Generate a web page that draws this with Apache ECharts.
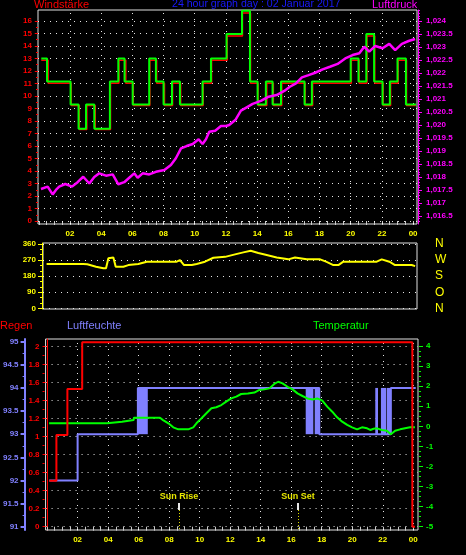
<!DOCTYPE html>
<html><head><meta charset="utf-8">
<script src="https://cdn.jsdelivr.net/npm/echarts@6/dist/echarts.min.js"></script>
<style>html,body{margin:0;padding:0;background:#000;}#c{width:466px;height:555px;}</style>
</head><body><div id="c"></div>
<script>
// ---------- DATA ----------
const titleMain = '24 hour graph day : 02 Januar 2017';
const titleWind = 'Windstärke';
const titlePress = 'Luftdruck';
const titleRain = 'Regen';
const titleHum = 'Luftfeuchte';
const titleTemp = 'Temperatur';

const hourLabels = [2,4,6,8,10,12,14,16,18,20,22,24];
const windTicks = [0,1,2,3,4,5,6,7,8,9,10,11,12,13,14,15,16];
const pressTicks = [1016.5,1017,1017.5,1018,1018.5,1019,1019.5,1020,1020.5,1021,1021.5,1022,1022.5,1023,1023.5,1024];
const dirTicks = [0,90,180,270,360];
const dirLetters = ['N','O','S','W','N'];
const rainTicks = [0,0.2,0.4,0.6,0.8,1,1.2,1.4,1.6,1.8,2];
const humTicks = [91,91.5,92,92.5,93,93.5,94,94.5,95];
const tempTicks = [-5,-4,-3,-2,-1,0,1,2,3,4];

// wind gust (green), step values held from each time
const gustTimes = [0.16,0.53,2.04,2.55,3.03,3.56,4.56,5.10,5.50,6.02,7.08,7.51,8.00,8.54,9.05,10.50,11.04,12.04,13.03,13.54,14.03,14.56,14.99,15.53,17.04,17.51,20.00,20.50,21.00,21.50,22.04,22.51,23.00,23.54,24.18];
const gustValues = [13.0,11.17,9.33,7.39,9.33,7.39,11.17,13.0,11.17,9.33,13.0,11.17,9.33,11.17,9.33,11.17,13.0,14.96,16.82,11.17,9.33,11.17,9.33,11.17,9.33,11.17,13.0,11.17,14.96,11.17,9.33,11.17,13.0,9.33,9.33];
// wind average (red)
const avgTimes = [0.16,0.60,2.08,2.60,3.08,3.62,4.60,5.14,5.58,6.06,7.12,7.56,8.06,8.58,9.10,10.54,11.08,12.08,13.06,13.58,14.06,14.62,15.04,15.58,17.08,17.56,20.04,20.54,21.04,21.54,22.08,22.56,23.04,23.58,24.18];
const avgValues = [12.87,11.02,9.25,7.33,9.25,7.33,11.02,12.87,11.02,9.25,12.87,11.02,9.25,11.02,9.25,11.02,12.87,14.8,16.65,11.02,9.25,11.02,9.25,11.02,9.25,11.02,12.87,11.02,14.8,11.02,9.25,11.02,12.87,9.25,9.25];
// pressure (magenta)
const pressTimes = [0.14,0.57,0.89,1.10,1.31,1.70,2.13,2.49,2.85,3.24,3.56,3.88,4.31,4.74,5.10,5.48,5.80,6.12,6.34,6.66,7.08,7.51,8.05,8.47,8.79,9.12,9.48,9.87,10.25,10.50,10.72,10.93,11.31,11.68,12.00,12.21,12.60,12.96,13.33,13.71,14.24,14.74,15.25,15.74,16.10,16.49,16.87,17.30,17.72,18.20,18.67,19.16,19.65,20.12,20.55,20.87,21.19,21.57,22.04,22.47,22.85,23.28,23.71,24.13];
const pressValues = [1017.54,1017.63,1017.33,1017.50,1017.63,1017.73,1017.63,1017.80,1018.01,1017.75,1018.00,1018.14,1018.05,1018.10,1017.72,1017.80,1017.97,1018.14,1017.97,1018.14,1018.10,1018.20,1018.27,1018.46,1018.72,1019.10,1019.19,1019.27,1019.45,1019.27,1019.45,1019.74,1019.78,1019.96,1019.96,1020.00,1020.19,1020.55,1020.68,1020.81,1020.93,1021.09,1021.15,1021.31,1021.47,1021.60,1021.83,1021.92,1022.01,1022.14,1022.24,1022.35,1022.56,1022.69,1022.76,1023.01,1022.82,1023.04,1022.95,1023.12,1022.88,1023.12,1023.23,1023.31];
// wind direction (yellow)
const dirTimes = [0.50,2.85,3.11,3.67,4.14,4.31,4.46,4.78,4.93,5.42,5.74,6.38,6.92,8.84,9.05,9.31,9.80,10.12,10.65,11.19,11.94,12.58,13.11,13.58,14.07,14.54,15.25,15.99,16.42,17.17,18.03,18.41,18.88,19.20,19.52,21.66,21.98,22.47,22.83,23.90,24.12];
const dirValues = [248,248,247,233,224,224,280,284,233,233,242,248,261,261,270,242,242,248,261,283,288,302,313,322,310,300,284,274,284,274,274,261,242,242,261,261,274,261,242,242,236];
// rain (red, cumulative)
const rainTimes = [0.14,0.61,1.33,2.30,23.94,24.11];
const rainValues = [0.51,1.02,1.53,2.05,0,0];
// humidity (blue)
const humTimes = [0.14,2.00,5.95,17.84,22.53,24.16];
const humValues = [92,93,94,93,94,94];
const humBands = [[5.95,6.60],[16.95,17.45],[17.54,17.84],[21.51,21.69],[21.88,22.23],[22.27,22.53]];
const humBandLow = 93, humBandHigh = 94;
// temperature (green)
const tempTimes = [0.13,3.93,3.95,4.91,4.93,5.67,5.69,7.40,7.60,7.95,8.27,8.60,9.25,9.58,9.79,10.12,10.44,10.77,11.09,11.42,11.74,12.07,12.40,12.72,13.16,13.59,13.91,14.24,14.57,14.89,15.15,15.43,15.76,16.09,16.41,16.74,17.06,17.39,17.71,18.04,18.36,18.69,19.01,19.34,19.67,19.99,20.32,20.64,20.97,21.18,21.40,21.62,21.94,22.27,22.53,22.81,23.14,23.46,23.79,24.11];
const tempValues = [0.15,0.15,0.23,0.23,0.31,0.31,0.43,0.43,0.31,0.15,-0.05,-0.15,-0.15,-0.05,0.15,0.40,0.65,0.90,0.95,1.06,1.23,1.39,1.48,1.61,1.64,1.68,1.81,1.84,1.89,2.11,2.22,2.14,1.97,1.84,1.64,1.51,1.39,1.34,1.39,1.28,0.98,0.73,0.45,0.23,0.07,-0.05,-0.15,-0.05,-0.10,-0.18,-0.12,-0.10,-0.18,-0.22,-0.40,-0.22,-0.15,-0.10,-0.05,-0.05];
// sun events
const sunNames = ['Sun Rise','Sun Set'];
const sunHours = [8.64, 16.45];

// ---------- BUILD ----------
const zip = (a,b) => a.map((t,i) => [t, b[i]]);
const FF = 'Liberation Sans, Arial, sans-serif';
const RED='#ff0000', GREEN='#00ff00', MAG='#ff00ff', YEL='#ffff00', HUM='#8080ff', BLUE='#1a1aff';
const steps = (a, b, s) => { const r = []; const n = Math.round((b - a) / s); for (let i = 0; i <= n; i++) r.push(+(a + i * s).toFixed(4)); return r; };
const halfHours = steps(0, 24, 0.5);
const hourFmt = v => String(Math.round(v) % 24).padStart(2,'0');
const dotted = {type:[1,5], color:'#ffffff', width:1, opacity:0.9};
const lbl = (color, extra) => Object.assign({color, fontSize:8, fontWeight:'bold', fontFamily:FF}, extra||{});

function gridLines(xs, ys){
  const d = [];
  xs.forEach(x => d.push({xAxis:x}));
  ys.forEach(y => d.push({yAxis:y}));
  return d;
}
const vLines = hourLabels;

// helper for minor-tick-only axes
function minorAxis(gridIndex, min, max, position, offset, values, color){
  return {gridIndex, type:'value', min, max, position, offset,
    axisLine:{show:false}, splitLine:{show:false}, axisLabel:{show:false},
    axisTick:{show:true, customValues:values, length:2, lineStyle:{color}}};
}

const sunLines = [];
sunNames.forEach((n,i) => {
  sunLines.push([{coord:[sunHours[i],0.263], lineStyle:{type:'solid', color:'#ffffff', width:2}, label:{show:true, position:'start', formatter:n, color:YEL, fontSize:9, fontWeight:'bold', fontFamily:FF, distance:2}}, {coord:[sunHours[i],0.186]}]);
  sunLines.push([{coord:[sunHours[i],0.186], lineStyle:{type:[1,2], color:YEL, width:1}}, {coord:[sunHours[i],-0.03]}]);
});

const option = {
  backgroundColor:'#000',
  animation:false,
  title:[
    {text:titleWind, left:34, top:-1, padding:0, textStyle:{color:RED, fontSize:11, fontWeight:'normal', fontFamily:FF}},
    {text:titleMain, left:172, top:-1, padding:0, textStyle:{color:BLUE, fontSize:10.6, fontWeight:'normal', fontFamily:FF}},
    {text:titlePress, left:372, top:-1, padding:0, textStyle:{color:MAG, fontSize:11, fontWeight:'normal', fontFamily:FF}},
    {text:titleRain, left:0, top:320, padding:0, textStyle:{color:RED, fontSize:11, fontWeight:'normal', fontFamily:FF}},
    {text:titleHum, left:67, top:320, padding:0, textStyle:{color:HUM, fontSize:11, fontWeight:'normal', fontFamily:FF}},
    {text:titleTemp, left:313, top:320, padding:0, textStyle:{color:GREEN, fontSize:11, fontWeight:'normal', fontFamily:FF}}
  ],
  grid:[
    {left:38, top:10, width:379, height:214, show:true, borderColor:'#e0e0e0', borderWidth:1, backgroundColor:'transparent'},
    {left:43, top:243, width:374, height:66, show:true, borderColor:'#e0e0e0', borderWidth:1, backgroundColor:'transparent'},
    {left:43, top:339, width:375, height:191, show:true, borderColor:'#e0e0e0', borderWidth:1, backgroundColor:'transparent'}
  ],
  xAxis:[
    {gridIndex:0, type:'value', min:-0.05, max:24.25, position:'bottom',
      axisLine:{show:false}, splitLine:{show:false},
      axisTick:{show:true, customValues:halfHours, length:4, lineStyle:{color:'#cccccc'}},
      axisLabel:{customValues:hourLabels, formatter:hourFmt, margin:6, ...lbl(YEL)}},
    {gridIndex:1, type:'value', min:0.27, max:24.24, show:false},
    {gridIndex:2, type:'value', min:-0.10, max:24.31, position:'bottom',
      axisLine:{show:false}, splitLine:{show:false},
      axisTick:{show:true, customValues:halfHours, length:4, lineStyle:{color:'#cccccc'}},
      axisLabel:{customValues:hourLabels, formatter:hourFmt, margin:6, ...lbl(YEL)}}
  ],
  yAxis:[
    {gridIndex:0, type:'value', min:-0.24, max:16.88, position:'left',
      axisLine:{show:false}, splitLine:{show:false},
      axisTick:{show:true, customValues:windTicks, length:4, lineStyle:{color:RED}},
      axisLabel:{customValues:windTicks, margin:6, ...lbl(RED)}},
    {gridIndex:0, type:'value', min:1016.192, max:1024.423, position:'right', offset:1,
      axisLine:{show:true, lineStyle:{color:MAG}}, splitLine:{show:false},
      axisTick:{show:true, customValues:pressTicks, length:4, lineStyle:{color:MAG}},
      axisLabel:{customValues:pressTicks, margin:8, ...lbl(MAG)}},
    {gridIndex:1, type:'value', min:-3.9, max:365.6, position:'left', offset:1,
      axisLine:{show:true, lineStyle:{color:YEL}}, splitLine:{show:false},
      axisTick:{show:true, customValues:dirTicks, length:4, lineStyle:{color:YEL}},
      axisLabel:{customValues:dirTicks, margin:6, ...lbl(YEL)}},
    {gridIndex:1, type:'value', min:-3.9, max:365.6, position:'right',
      axisLine:{show:false}, splitLine:{show:false}, axisTick:{show:false},
      axisLabel:{customValues:dirTicks, margin:18, formatter:v => dirLetters[dirTicks.indexOf(v)], color:YEL, fontSize:12, fontFamily:FF, padding:[4,0,0,0]}},
    {gridIndex:2, type:'value', min:-0.0367, max:2.0856, position:'left', offset:1,
      axisLine:{show:true, lineStyle:{color:RED}}, splitLine:{show:false},
      axisTick:{show:true, customValues:rainTicks, length:4, lineStyle:{color:RED}},
      axisLabel:{customValues:rainTicks, margin:5, ...lbl(RED)}},
    {gridIndex:2, type:'value', min:90.929, max:95.058, position:'left', offset:21,
      axisLine:{show:true, lineStyle:{color:HUM, width:2}}, splitLine:{show:false},
      axisTick:{show:true, customValues:humTicks, length:4, lineStyle:{color:HUM, width:2}},
      axisLabel:{customValues:humTicks, margin:6, ...lbl(HUM)}},
    {gridIndex:2, type:'value', min:-5.163, max:4.349, position:'right', offset:1,
      axisLine:{show:false}, splitLine:{show:false},
      axisTick:{show:true, customValues:tempTicks, length:4, lineStyle:{color:GREEN}},
      axisLabel:{customValues:tempTicks, margin:7, ...lbl(GREEN)}},
    // minor tick axes
    minorAxis(0, -0.24, 16.88, 'left', 0, steps(0, 16, 0.5), RED),
    minorAxis(0, 1016.192, 1024.423, 'right', 1, steps(1016.3, 1024.4, 0.1), MAG),
    minorAxis(1, -3.9, 365.6, 'left', 1, steps(0, 360, 30), YEL),
    minorAxis(2, -0.0367, 2.0856, 'left', 1, steps(0, 2, 0.1), RED),
    minorAxis(2, 90.929, 95.058, 'left', 21, steps(91, 95, 0.25), HUM),
    minorAxis(2, -5.163, 4.349, 'right', 1, steps(-5, 4, 0.25), GREEN)
  ],
  series:[
    {name:'Wind avg', type:'line', xAxisIndex:0, yAxisIndex:0, step:'end', symbol:'none', z:2,
      lineStyle:{color:RED, width:1.5}, data:zip(avgTimes, avgValues),
      markLine:{silent:true, symbol:['none','none'], z:1, animation:false, label:{show:false}, lineStyle:dotted,
        data:gridLines(vLines, windTicks)}},
    {name:'Wind gust', type:'line', xAxisIndex:0, yAxisIndex:0, step:'end', symbol:'none', z:3,
      lineStyle:{color:GREEN, width:2}, data:zip(gustTimes, gustValues)},
    {name:'Luftdruck', type:'line', xAxisIndex:0, yAxisIndex:1, symbol:'none', z:4,
      lineStyle:{color:MAG, width:2.5}, data:zip(pressTimes, pressValues)},
    {name:'Richtung', type:'line', xAxisIndex:1, yAxisIndex:2, symbol:'none', z:3,
      lineStyle:{color:YEL, width:2}, data:zip(dirTimes, dirValues),
      markLine:{silent:true, symbol:['none','none'], z:1, animation:false, label:{show:false}, lineStyle:dotted,
        data:gridLines([], dirTicks)}},
    {name:'Luftfeuchte', type:'line', xAxisIndex:2, yAxisIndex:5, step:'end', symbol:'none', z:2,
      lineStyle:{color:HUM, width:2}, data:zip(humTimes, humValues),
      markArea:{silent:true, itemStyle:{color:HUM, opacity:1, borderWidth:0}, z:2,
        data:humBands.map(b => [{xAxis:b[0], yAxis:humBandLow}, {xAxis:b[1], yAxis:humBandHigh}])}},
    {name:'Temperatur', type:'line', xAxisIndex:2, yAxisIndex:6, symbol:'none', z:3,
      lineStyle:{color:GREEN, width:2}, data:zip(tempTimes, tempValues)},
    {name:'Regen', type:'line', xAxisIndex:2, yAxisIndex:4, step:'end', symbol:'none', z:4,
      lineStyle:{color:RED, width:2}, data:zip(rainTimes, rainValues),
      markLine:{silent:true, symbol:['none','none'], z:1, animation:false, label:{show:false}, lineStyle:dotted,
        data:gridLines(vLines, rainTicks).concat(sunLines)}}
  ]
};
const chart = echarts.init(document.getElementById('c'), null, {renderer:'canvas'});
chart.setOption(option);
</script></body></html>
